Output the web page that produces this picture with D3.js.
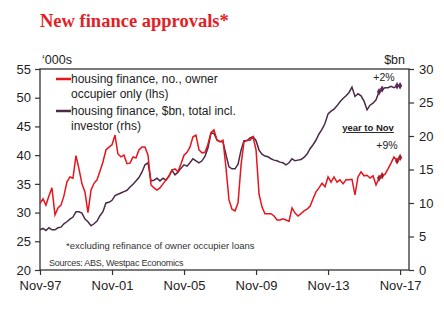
<!DOCTYPE html>
<html>
<head>
  <title>New finance approvals</title>
  <script src="https://d3js.org/d3.v7.min.js"></script>
  <style>
    body { margin: 0; background: #fff; }
    text { font-family: Arial, "Liberation Sans", sans-serif; }
  </style>
</head>
<body>
  <svg width="444" height="324"></svg>

  <script>
    // Bi-monthly observations starting Nov-97
    const startMonth = new Date(1997, 10, 1);

    // Owner occupier loans, number ('000s, lhs)
    const ownerNo = [
      31.6, 32.4, 31.3, 32.9, 34.3, 29.6, 30.8, 31.3, 32.9, 35.3,
      36.2, 36.0, 39.9, 37.6, 35.0, 33.6, 30.0, 33.9, 35.1, 35.7,
      37.2, 38.8, 40.9, 41.4, 41.8, 43.5, 40.2, 39.7, 40.0, 38.5,
      38.6, 39.7, 39.5, 40.9, 41.4, 41.4, 40.0, 34.8, 34.3, 33.9,
      34.3, 35.0, 35.7, 36.4, 37.4, 37.6, 37.1, 38.5, 40.0, 40.5,
      41.4, 43.2, 43.5, 40.9, 40.4, 40.5, 41.9, 43.9, 44.4, 42.6,
      42.3, 42.6, 37.8, 32.2, 30.6, 30.3, 31.7, 38.3, 42.3, 42.6,
      42.6, 43.2, 40.9, 33.2, 31.0, 29.8, 29.8, 29.8, 29.4, 28.7,
      28.7, 28.9, 28.7, 28.5, 30.8, 29.9, 29.4, 29.8, 30.3, 30.6,
      31.1, 32.4, 33.6, 34.3, 35.1, 34.5, 36.2, 35.3, 36.2, 35.3,
      35.7, 35.0, 35.7, 35.7, 35.8, 33.1, 36.2, 37.1, 36.4, 36.5,
      36.0, 36.4, 34.8, 36.0, 36.4, 36.7, 37.6, 38.6, 39.7, 39.0,
      39.6
    ];

    // Total housing finance incl. investor ($bn, rhs)
    const totalBn = [
      6.0, 6.2, 5.9, 6.3, 6.0, 6.0, 6.3, 6.4, 6.9, 7.2,
      7.6, 7.9, 8.7, 8.7, 8.5, 7.6, 7.2, 6.6, 6.9, 7.3,
      8.1, 8.7, 10.0, 10.1, 10.4, 11.1, 11.3, 11.5, 11.7, 11.9,
      12.4, 12.8, 13.3, 13.8, 14.6, 15.7, 16.0, 13.3, 13.4, 13.7,
      13.3, 13.7, 13.4, 14.0, 14.9, 14.2, 14.6, 15.2, 15.7, 15.5,
      16.0, 16.6, 16.3, 16.0, 16.3, 17.0, 18.2, 20.4, 20.4, 19.4,
      19.2, 19.1, 17.2, 15.4, 15.1, 15.1, 15.8, 17.9, 19.3, 19.3,
      19.7, 19.9, 19.3, 17.9, 17.3, 17.0, 16.9, 16.6, 16.4, 16.3,
      16.1, 16.0, 15.7, 16.0, 16.6, 16.3, 16.4, 16.5, 16.8, 17.3,
      18.1, 18.7, 19.4, 20.3, 21.0, 21.9, 23.3, 23.7, 24.0, 24.5,
      25.1, 25.6, 26.0, 26.5, 27.3, 25.9, 26.3, 26.0, 25.2, 23.9,
      24.6, 24.9, 25.4, 26.6, 27.0, 27.2, 27.2, 27.4, 27.2, 27.5,
      27.5
    ];

    // Points compared in the "year to Nov" growth figures
    const compareIdx = [113, 114, 119, 120];

    const leftTicks = [20, 25, 30, 35, 40, 45, 50, 55];
    const rightTicks = [0, 5, 10, 15, 20, 25, 30];
    const yearTicks = ["Nov-97", "Nov-01", "Nov-05", "Nov-09", "Nov-13", "Nov-17"];

    const dates = ownerNo.map((d, i) => d3.timeMonth.offset(startMonth, 2 * i));
    const parseTick = d3.timeParse("%b-%y");
    const fmtTick = d3.timeFormat("%b-%y");

    const margin = { top: 69, right: 35, bottom: 54, left: 40 };
    const width = 444 - margin.left - margin.right;
    const height = 324 - margin.top - margin.bottom;

    const red = "#e8141c";
    const plum = "#4b2a48";
    const axisCol = "#333";

    const svg = d3.select("svg");

    // Title
    svg.append("text")
      .attr("x", 40)
      .attr("y", 27)
      .attr("fill", "#e31e24")
      .style("font-family", "'Times New Roman', 'Liberation Serif', serif")
      .style("font-weight", "bold")
      .style("font-size", "18.5px")
      .text("New finance approvals*");

    const g = svg.append("g")
      .attr("transform", `translate(${margin.left},${margin.top})`);

    const x = d3.scaleTime()
      .domain([startMonth, new Date(2018, 4, 1)])
      .range([0, width]);

    const yL = d3.scaleLinear().domain([20, 55]).range([height, 0]);
    const yR = d3.scaleLinear().domain([0, 30]).range([height, 0]);

    // Axes
    const styleAxis = sel => {
      sel.select(".domain").remove();
      sel.selectAll("line").attr("stroke", axisCol).attr("stroke-width", 1.2);
      sel.selectAll("text").attr("fill", "#222").style("font-size", "13px");
    };

    g.append("g")
      .call(d3.axisLeft(yL).tickValues(leftTicks).tickSize(5).tickPadding(4))
      .call(styleAxis);

    g.append("g")
      .attr("transform", `translate(${width},0)`)
      .call(d3.axisRight(yR).tickValues(rightTicks).tickSize(5).tickPadding(5))
      .call(styleAxis);

    g.append("g")
      .attr("transform", `translate(0,${height})`)
      .call(d3.axisBottom(x).tickValues(yearTicks.map(parseTick)).tickFormat(fmtTick)
        .tickSize(5).tickPadding(6))
      .call(styleAxis);

    // Frame
    g.append("rect")
      .attr("width", width)
      .attr("height", height)
      .attr("fill", "none")
      .attr("stroke", axisCol)
      .attr("stroke-width", 1.3);

    // Units
    g.append("text").attr("x", 2).attr("y", -5)
      .attr("fill", "#222").style("font-size", "12.5px").text("\u2018000s");
    g.append("text").attr("x", width - 4).attr("y", -5).attr("text-anchor", "end")
      .attr("fill", "#222").style("font-size", "12.5px").text("$bn");

    // Series lines
    const lineL = d3.line().x((d, i) => x(dates[i])).y(d => yL(d));
    const lineR = d3.line().x((d, i) => x(dates[i])).y(d => yR(d));

    g.append("path")
      .datum(totalBn)
      .attr("fill", "none")
      .attr("stroke", plum)
      .attr("stroke-width", 1.5)
      .attr("d", lineR);

    g.append("path")
      .datum(ownerNo)
      .attr("fill", "none")
      .attr("stroke", red)
      .attr("stroke-width", 1.5)
      .attr("d", lineL);

    // Comparison markers
    const diamond = d3.symbol().type(d3.symbolDiamond).size(16);
    g.selectAll(".mk-r")
      .data(compareIdx)
      .join("path")
      .attr("transform", i => `translate(${x(dates[i])},${yL(ownerNo[i])})`)
      .attr("d", diamond)
      .attr("fill", "#a3202c");
    g.selectAll(".mk-p")
      .data(compareIdx)
      .join("path")
      .attr("transform", i => `translate(${x(dates[i])},${yR(totalBn[i])})`)
      .attr("d", diamond)
      .attr("fill", "#5e2a55");

    // Legend
    const legend = [
      { color: red, lines: ["housing finance, no., owner", "occupier only (lhs)"], y: 10 },
      { color: plum, lines: ["housing finance, $bn, total incl.", "investor (rhs)"], y: 42 }
    ];
    legend.forEach(item => {
      g.append("line")
        .attr("x1", 16).attr("x2", 31)
        .attr("y1", item.y).attr("y2", item.y)
        .attr("stroke", item.color).attr("stroke-width", 2.5);
      item.lines.forEach((t, j) => {
        g.append("text")
          .attr("x", 31)
          .attr("y", item.y + 4 + j * 15)
          .attr("fill", "#222")
          .style("font-size", "12px")
          .text(t);
      });
    });

    // Growth annotations
    g.append("text").attr("x", 344).attr("y", 12).attr("text-anchor", "middle")
      .attr("fill", "#222").style("font-size", "10.5px").text("+2%");
    g.append("text").attr("x", 328).attr("y", 62).attr("text-anchor", "middle")
      .attr("fill", "#222").style("font-size", "9.5px").style("font-weight", "bold")
      .style("text-decoration", "underline").text("year to Nov");
    g.append("text").attr("x", 347).attr("y", 80).attr("text-anchor", "middle")
      .attr("fill", "#222").style("font-size", "10.5px").text("+9%");

    // Notes
    g.append("text").attr("x", 26).attr("y", 180)
      .attr("fill", "#333").style("font-size", "9.5px")
      .text("*excluding refinance of owner occupier loans");
    g.append("text").attr("x", 9).attr("y", 197)
      .attr("fill", "#333").style("font-size", "9px").style("letter-spacing", "-0.25px")
      .text("Sources: ABS, Westpac Economics");
  </script>
</body>
</html>
